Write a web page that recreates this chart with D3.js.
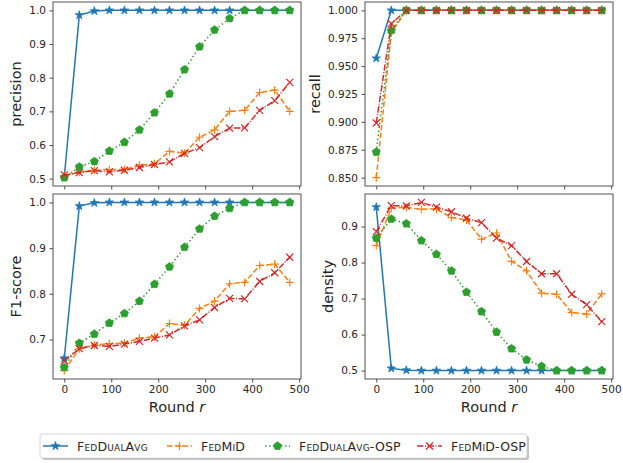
<!DOCTYPE html>
<html>
<head>
<meta charset="utf-8">
<script src="https://cdn.jsdelivr.net/npm/d3@7"></script>
<style>
  body { margin: 0; background: #fff; }
  text { font-family: "DejaVu Sans", sans-serif; fill: #262626; }
  .axisLabel { font-size: 14.5px; }
  .legendText { font-size: 12.5px; font-variant: small-caps; letter-spacing: 0.2px; }
</style>
</head>
<body>
<div id="graph"></div>
<script>
// rounds on the x axis
var rounds = [0, 32, 64, 96, 128, 160, 192, 224, 256, 288, 320, 352, 384, 416, 448, 480];

var methods = ['FedDualAvg', 'FedMiD', 'FedDualAvg-OSP', 'FedMiD-OSP'];

// precision
var precDualAvg    = [0.505, 0.986, 0.998, 1.0, 1.0, 1.0, 1.0, 1.0, 1.0, 1.0, 1.0, 1.0, 1.0, 1.0, 1.0, 1.0];
var precMiD        = [0.508, 0.520, 0.525, 0.527, 0.527, 0.540, 0.544, 0.581, 0.576, 0.623, 0.645, 0.700, 0.703, 0.756, 0.763, 0.700];
var precDualAvgOSP = [0.503, 0.535, 0.551, 0.582, 0.608, 0.645, 0.696, 0.752, 0.824, 0.892, 0.942, 0.976, 1.0, 1.0, 1.0, 1.0];
var precMiDOSP     = [0.511, 0.518, 0.524, 0.520, 0.525, 0.533, 0.542, 0.550, 0.575, 0.592, 0.625, 0.650, 0.651, 0.703, 0.732, 0.786];

// recall
var recDualAvg    = [0.957, 1.0, 1.0, 1.0, 1.0, 1.0, 1.0, 1.0, 1.0, 1.0, 1.0, 1.0, 1.0, 1.0, 1.0, 1.0];
var recMiD        = [0.850, 0.980, 1.0, 1.0, 1.0, 1.0, 1.0, 1.0, 1.0, 1.0, 1.0, 1.0, 1.0, 1.0, 1.0, 1.0];
var recDualAvgOSP = [0.873, 0.982, 1.0, 1.0, 1.0, 1.0, 1.0, 1.0, 1.0, 1.0, 1.0, 1.0, 1.0, 1.0, 1.0, 1.0];
var recMiDOSP     = [0.899, 0.988, 1.0, 1.0, 1.0, 1.0, 1.0, 1.0, 1.0, 1.0, 1.0, 1.0, 1.0, 1.0, 1.0, 1.0];

// F1-score
var f1DualAvg    = [0.659, 0.992, 0.999, 1.0, 1.0, 1.0, 1.0, 1.0, 1.0, 1.0, 1.0, 1.0, 1.0, 1.0, 1.0, 1.0];
var f1MiD        = [0.632, 0.680, 0.688, 0.691, 0.692, 0.703, 0.706, 0.735, 0.731, 0.768, 0.784, 0.822, 0.825, 0.862, 0.865, 0.825];
var f1DualAvgOSP = [0.639, 0.692, 0.712, 0.736, 0.757, 0.784, 0.821, 0.859, 0.902, 0.942, 0.970, 0.987, 1.0, 1.0, 1.0, 1.0];
var f1MiDOSP     = [0.653, 0.680, 0.687, 0.685, 0.690, 0.696, 0.703, 0.710, 0.730, 0.743, 0.770, 0.790, 0.789, 0.827, 0.846, 0.880];

// density
var densDualAvg    = [0.954, 0.506, 0.501, 0.5, 0.5, 0.5, 0.5, 0.5, 0.5, 0.5, 0.5, 0.5, 0.5, 0.5, 0.5, 0.5];
var densMiD        = [0.847, 0.951, 0.953, 0.948, 0.949, 0.925, 0.918, 0.865, 0.882, 0.803, 0.777, 0.715, 0.712, 0.661, 0.657, 0.713];
var densDualAvgOSP = [0.868, 0.921, 0.908, 0.861, 0.823, 0.777, 0.718, 0.664, 0.607, 0.561, 0.530, 0.512, 0.5, 0.5, 0.5, 0.5];
var densMiDOSP     = [0.886, 0.958, 0.957, 0.967, 0.954, 0.941, 0.923, 0.911, 0.868, 0.847, 0.803, 0.769, 0.769, 0.712, 0.683, 0.636];

var xTicks = [0, 100, 200, 300, 400, 500];
var precTicks = [0.5, 0.6, 0.7, 0.8, 0.9, 1.0];
var recTicks  = [0.850, 0.875, 0.900, 0.925, 0.950, 0.975, 1.000];
var f1Ticks   = [0.7, 0.8, 0.9, 1.0];
var densTicks = [0.5, 0.6, 0.7, 0.8, 0.9];

var colours = ['#1f77b4', '#ff7f0e', '#2ca02c', '#d62728'];
var dashes  = ['none', '5.5,2.4', '1.5,2.5', '6.4,1.6,1,1.6'];
var markers = ['star', 'plus', 'pentagon', 'cross'];

var svg = d3.select('div#graph')
            .append('svg')
            .attr('width', 623)
            .attr('height', 463);

var panels = [
  { x0: 53,  x1: 301, y0: 2,   y1: 186, label: 'precision', ticks: precTicks, fmt: '.1f',
    series: [precDualAvg, precMiD, precDualAvgOSP, precMiDOSP], xLabels: false },
  { x0: 365, x1: 613, y0: 2,   y1: 186, label: 'recall', ticks: recTicks, fmt: '.3f',
    series: [recDualAvg, recMiD, recDualAvgOSP, recMiDOSP], xLabels: false },
  { x0: 53,  x1: 301, y0: 194, y1: 379, label: 'F1-score', ticks: f1Ticks, fmt: '.1f',
    series: [f1DualAvg, f1MiD, f1DualAvgOSP, f1MiDOSP], xLabels: true },
  { x0: 365, x1: 613, y0: 194, y1: 379, label: 'density', ticks: densTicks, fmt: '.1f',
    series: [densDualAvg, densMiD, densDualAvgOSP, densMiDOSP], xLabels: true }
];

// marker shapes drawn around (0,0)
function markerPath(kind)
{
  if (kind === 'star')
    return d3.symbol().type(d3.symbolStar).size(22)();
  if (kind === 'plus')
    return 'M-4,0H4M0,-4V4';
  if (kind === 'cross')
    return 'M-3.5,-3.5L3.5,3.5M-3.5,3.5L3.5,-3.5';
  // pentagon
  var r = 4.2, pts = [];
  for (var k = 0; k < 5; k++)
  {
    var a = -Math.PI / 2 + k * 2 * Math.PI / 5;
    pts.push([r * Math.cos(a), r * Math.sin(a)]);
  }
  return 'M' + pts.join('L') + 'Z';
}

function drawMarker(g, kind, colour, x, y)
{
  var p = g.append('path')
           .attr('d', markerPath(kind))
           .attr('transform', 'translate(' + x + ',' + y + ')');
  if (kind === 'plus' || kind === 'cross')
    p.attr('fill', 'none').attr('stroke', colour).attr('stroke-width', 1.2);
  else
    p.attr('fill', colour).attr('stroke', colour).attr('stroke-width', 0.8);
}

panels.forEach(function (pn)
{
  var xScale = d3.scaleLinear().domain([-24, 504]).range([pn.x0, pn.x1]);

  var all = d3.merge(pn.series);
  var lo = d3.min(all), hi = d3.max(all), pad = 0.05 * (hi - lo);
  var yScale = d3.scaleLinear().domain([lo - pad, hi + pad]).range([pn.y1, pn.y0]);

  var g = svg.append('g');

  var xAxis = d3.axisBottom(xScale)
                .tickValues(xTicks)
                .tickSizeInner(3.5)
                .tickSizeOuter(0)
                .tickPadding(3.5)
                .tickFormat(pn.xLabels ? d3.format('d') : '');

  var yAxis = d3.axisLeft(yScale)
                .tickValues(pn.ticks)
                .tickSizeInner(3.5)
                .tickSizeOuter(0)
                .tickPadding(3.5)
                .tickFormat(d3.format(pn.fmt));

  g.append('g')
   .attr('class', 'x axis')
   .attr('transform', 'translate(0,' + pn.y1 + ')')
   .call(xAxis);

  g.append('g')
   .attr('class', 'y axis')
   .attr('transform', 'translate(' + pn.x0 + ',0)')
   .call(yAxis);

  g.selectAll('.axis .domain').remove();
  g.selectAll('.axis line').attr('stroke', '#262626').attr('stroke-width', 0.8);
  g.selectAll('.axis text').attr('fill', '#262626').style('font-family', '"DejaVu Sans", sans-serif').style('font-size', '10.5px');

  var plot = g.append('g');

  pn.series.forEach(function (vals, si)
  {
    var data = rounds.map(function (r, i) { return { r: r, v: vals[i] }; });
    var line = d3.line()
                 .x(function (d) { return xScale(d.r); })
                 .y(function (d) { return yScale(d.v); });

    plot.append('path')
        .datum(data)
        .attr('d', line)
        .attr('fill', 'none')
        .attr('stroke', colours[si])
        .attr('stroke-width', 1.5)
        .attr('stroke-dasharray', dashes[si]);

    data.forEach(function (d)
    {
      drawMarker(plot, markers[si], colours[si], xScale(d.r), yScale(d.v));
    });
  });

  // frame
  g.append('rect')
   .attr('x', pn.x0).attr('y', pn.y0)
   .attr('width', pn.x1 - pn.x0).attr('height', pn.y1 - pn.y0)
   .attr('fill', 'none')
   .attr('stroke', '#262626')
   .attr('stroke-width', 0.8);

  // y label
  svg.append('text')
     .attr('class', 'axisLabel')
     .attr('transform', 'rotate(-90)')
     .attr('x', -(pn.y0 + pn.y1) / 2)
     .attr('y', pn.x0 - (pn.fmt === '.3f' ? 45 : 32))
     .style('text-anchor', 'middle')
     .text(pn.label);

  if (pn.xLabels)
  {
    var t = svg.append('text')
               .attr('class', 'axisLabel')
               .attr('x', (pn.x0 + pn.x1) / 2)
               .attr('y', pn.y1 + 33)
               .style('text-anchor', 'middle');
    t.append('tspan').text('Round ');
    t.append('tspan').style('font-style', 'italic').text('r');
  }
});

// legend
var legX = 40, legY = 434, legW = 487, legH = 24;
svg.append('rect')
   .attr('x', legX + 2).attr('y', legY + 2)
   .attr('width', legW).attr('height', legH)
   .attr('rx', 2)
   .attr('fill', '#9a9a9a').attr('opacity', 0.6);
svg.append('rect')
   .attr('x', legX).attr('y', legY)
   .attr('width', legW).attr('height', legH)
   .attr('rx', 2)
   .attr('fill', '#fff')
   .attr('stroke', '#cccccc')
   .attr('stroke-width', 0.8);

var legStart = [43, 167, 265, 417];
var legend = svg.append('g');
methods.forEach(function (m, i)
{
  var lx = legStart[i];
  legend.append('line')
        .attr('x1', lx).attr('x2', lx + 25)
        .attr('y1', legY + 12).attr('y2', legY + 12)
        .attr('stroke', colours[i])
        .attr('stroke-width', 1.5)
        .attr('stroke-dasharray', dashes[i]);
  drawMarker(legend, markers[i], colours[i], lx + 12.5, legY + 12);
  legend.append('text')
        .attr('class', 'legendText')
        .attr('x', lx + 34)
        .attr('y', legY + 16.5)
        .text(m);
});
</script>
</body>
</html>
